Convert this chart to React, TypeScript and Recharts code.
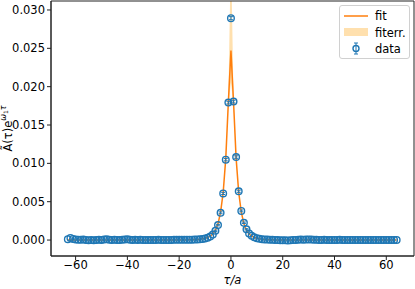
import React from "react";
import {
  ComposedChart,
  Line,
  Area,
  Scatter,
  ErrorBar,
  XAxis,
  YAxis,
  Legend,
  ReferenceArea,
} from "recharts";

// x positions (tau/a) run from TAU_START in steps of one
const TAU_START = -63;

// measured data, tau = -63 .. 64
const dataValues = [
  0.00012, 0.00028, 0.00014, 0.00008, 0.00005, 0.00004, 0.00006, 0.00002, -0.00002, 0.00001, -0.00003, 0.00001, 0.00004, 0.00002, 0.00006, 0.00009,
  0.00004, 0.00001, 0.00005, 0.00002, -0.00001, 0.00003, 0.00007, 0.0001, 0.00004, 0.00002, 0.00004, 0.00001, 0.00003, 0.00001, 0.00002, -0.00001,
  0.00001, 0.00002, 0.00001, 0.00003, 0.00002, 0.00001, 0.00002, 0.00002, 0.00002, 0.00003, 0.00003, 0.00003, 0.00004, 0.00004, 0.00005, 0.00005,
  0.00005, 0.00006, 0.00008, 0.0001, 0.00014, 0.0002, 0.0003, 0.00045, 0.00072, 0.00121, 0.00195, 0.00355, 0.00608, 0.01048, 0.01792, 0.02893,
  0.01805, 0.01082, 0.00636, 0.0038, 0.00225, 0.0014, 0.00085, 0.00055, 0.00036, 0.00024, 0.00016, 0.00011, 0.00008, 0.00006, 0.00004, 0.00003,
  0.00001, 0.0, -0.00002, -0.00004, -0.00003, -0.00005, -0.00002, 0.00001, 0.00002, 0.00004, 0.00006, 0.00005, 0.00007, 0.00008, 0.00006, 0.00004,
  0.00003, 0.00001, 0.00002, 0.00003, 0.00001, -0.00001, 0.00001, 0.00002, 0.00001, 0.00003, 0.00002, 0.00001, 0.00002, 0.00001, 0.00002, 0.00001,
  0.00002, 0.00001, 0.00002, 0.00001, 0.00002, 0.00001, 0.00002, 0.00001, 0.00002, 0.00001, 0.00002, 0.00001, 0.00002, 0.00001, 0.00002, 0.00001,
];

// fit curve, tau = -63 .. 64
const fitValues = [
  0, 0, 0, 0, 0, 0, 0, 0, 0, 0, 0, 0, 0, 0, 0, 0,
  0, 0, 0, 0, 0, 0, 0, 0, 0, 0, 0, 0, 0, 0, 0, 0,
  0, 0, 0, 0, 0, 0, 0, 0, 0, 0, 0, 0, 0.00001, 0.00001, 0.00002, 0.00003,
  0.00004, 0.00006, 0.00008, 0.00011, 0.00016, 0.00023, 0.00034, 0.00051, 0.00078, 0.00128, 0.00212, 0.00365, 0.0062, 0.01065, 0.018, 0.0247,
  0.018, 0.01065, 0.0062, 0.00365, 0.00212, 0.00128, 0.00078, 0.00051, 0.00034, 0.00023, 0.00016, 0.00011, 0.00008, 0.00006, 0.00004, 0.00003,
  0.00002, 0.00001, 0.00001, 0, 0, 0, 0, 0, 0, 0, 0, 0, 0, 0, 0, 0,
  0, 0, 0, 0, 0, 0, 0, 0, 0, 0, 0, 0, 0, 0, 0, 0,
  0, 0, 0, 0, 0, 0, 0, 0, 0, 0, 0, 0, 0, 0, 0, 0,
];

// fit error band near the peak
const bandTaus = [-3, -2, -1, 0, 1, 2, 3];
const bandLow = [0.0061, 0.0105, 0.0176, 0.0205, 0.0176, 0.0105, 0.0061];
const bandHigh = [0.0063, 0.0108, 0.0184, 0.038, 0.0184, 0.0108, 0.0063];

// data error bars near the peak
const errTaus = [-6, -5, -4, -3, -2, -1, 0, 1, 2, 3, 4, 5, 6];
const errValues = [0.00008, 0.0001, 0.00012, 0.00014, 0.00016, 0.00018, 0.0002, 0.00018, 0.00016, 0.00014, 0.00012, 0.0001, 0.00008];

const xTicks = [-60, -40, -20, 0, 20, 40, 60];
const yTicks = [0, 0.005, 0.01, 0.015, 0.02, 0.025, 0.03];
const X_DOMAIN = [-69.5, 70.7];
const Y_DOMAIN = [-0.00208, 0.03117];

const FONT = "'DejaVu Sans', sans-serif";
const BLUE = "#1f77b4";
const ORANGE = "#ff7f0e";
const BAND = "#ffe0ae";

const table = dataValues.map((v, i) => {
  const tau = TAU_START + i;
  const bi = bandTaus.indexOf(tau);
  const ei = errTaus.indexOf(tau);
  return {
    tau,
    data: v,
    fit: fitValues[i],
    band: bi >= 0 ? [bandLow[bi], bandHigh[bi]] : null,
    err: ei >= 0 ? errValues[ei] : null,
  };
});

const fmtX = (v: number) => String(v).replace("-", "\u2212");
const fmtY = (v: number) => v.toFixed(3);

const OpenCircle = (props: any) => {
  const { cx, cy } = props;
  if (cx == null || cy == null) return null;
  return <circle cx={cx} cy={cy} r={3.3} fill="none" stroke={BLUE} strokeWidth={1.4} />;
};

const YLabel = (props: any) => {
  const vb = props.viewBox || { x: 0, y: 0, width: 51, height: 256 };
  const cx = 8;
  const cy = vb.y + vb.height / 2;
  return (
    <text
      x={cx}
      y={cy}
      transform={`rotate(-90, ${cx}, ${cy})`}
      textAnchor="middle"
      dominantBaseline="central"
      fontFamily={FONT}
      fontSize={11.5}
      fill="#000"
    >
      {"Ã(τ)e"}
      <tspan dy={-5} fontSize={8} fontStyle="italic">ω</tspan>
      <tspan dy={2} fontSize={6}>1</tspan>
      <tspan dy={-2} fontSize={8} fontStyle="italic">τ</tspan>
    </text>
  );
};

const XLabel = (props: any) => {
  const vb = props.viewBox || { x: 51, y: 256, width: 363, height: 33 };
  return (
    <text
      x={vb.x + vb.width / 2}
      y={284}
      textAnchor="middle"
      fontFamily={FONT}
      fontSize={11.5}
      fontStyle="italic"
      fill="#000"
    >
      τ/a
    </text>
  );
};

const LegendBox = () => (
  <div
    style={{
      boxSizing: "border-box",
      width: 71,
      height: 54,
      border: "1px solid #d0d0d0",
      borderRadius: 3,
      background: "rgba(255,255,255,0.8)",
      fontFamily: FONT,
      fontSize: 11.5,
      color: "#000",
      position: "relative",
    }}
  >
    <svg width={30} height={52} style={{ position: "absolute", left: 2, top: 0 }}>
      <line x1={2} x2={26} y1={10} y2={10} stroke={ORANGE} strokeWidth={1.5} />
      <rect x={2} y={22} width={24} height={8} fill={BAND} />
      <line x1={14} x2={14} y1={37} y2={48} stroke={BLUE} strokeWidth={1} />
      <line x1={12} x2={16} y1={37} y2={37} stroke={BLUE} strokeWidth={1} />
      <line x1={12} x2={16} y1={48} y2={48} stroke={BLUE} strokeWidth={1} />
      <circle cx={14} cy={42.5} r={3} fill="none" stroke={BLUE} strokeWidth={1.4} />
    </svg>
    <div style={{ position: "absolute", left: 35, top: 2, lineHeight: "16.5px" }}>
      <div>fit</div>
      <div>fiterr.</div>
      <div>data</div>
    </div>
  </div>
);

export default function App() {
  return (
    <div style={{ position: "absolute", left: 0, top: 0, width: 415, height: 289 }}>
      <ComposedChart
        width={415}
        height={289}
        data={table}
        margin={{ top: 1, right: 1, bottom: 0, left: 0 }}
        style={{ fontFamily: FONT }}
      >
        <XAxis
          dataKey="tau"
          type="number"
          domain={X_DOMAIN}
          allowDataOverflow
          ticks={xTicks}
          tickFormatter={fmtX}
          height={33}
          tickSize={4}
          tickMargin={1}
          stroke="#222"
          tick={{ fill: "#000", fontSize: 11.5, fontFamily: FONT }}
          label={{ content: (p: any) => <XLabel {...p} /> }}
        />
        <YAxis
          type="number"
          domain={Y_DOMAIN}
          allowDataOverflow
          ticks={yTicks}
          tickFormatter={fmtY}
          width={51}
          tickSize={4}
          tickMargin={2}
          stroke="#222"
          tick={{ fill: "#000", fontSize: 11.5, fontFamily: FONT }}
          label={{ content: (p: any) => <YLabel {...p} /> }}
        />
        <Area
          type="linear"
          dataKey="band"
          stroke="none"
          fill={BAND}
          fillOpacity={1}
          isAnimationActive={false}
          connectNulls={false}
          name="fiterr."
        />
        <Line
          type="linear"
          dataKey="fit"
          stroke={ORANGE}
          strokeWidth={1.5}
          dot={false}
          isAnimationActive={false}
          name="fit"
        />
        <Scatter dataKey="data" shape={OpenCircle} isAnimationActive={false} name="data">
          <ErrorBar dataKey="err" direction="y" width={2} stroke={BLUE} strokeWidth={1} />
        </Scatter>
        <ReferenceArea
          x1={X_DOMAIN[0]}
          x2={X_DOMAIN[1]}
          y1={Y_DOMAIN[0]}
          y2={Y_DOMAIN[1]}
          fill="none"
          fillOpacity={0}
          stroke="#222"
          strokeWidth={1}
          ifOverflow="visible"
        />
        <Legend
          layout="horizontal"
          align="center"
          verticalAlign="middle"
          content={() => <LegendBox />}
          wrapperStyle={{ top: 5, left: 339, width: 71, height: 54 }}
        />
      </ComposedChart>
    </div>
  );
}
